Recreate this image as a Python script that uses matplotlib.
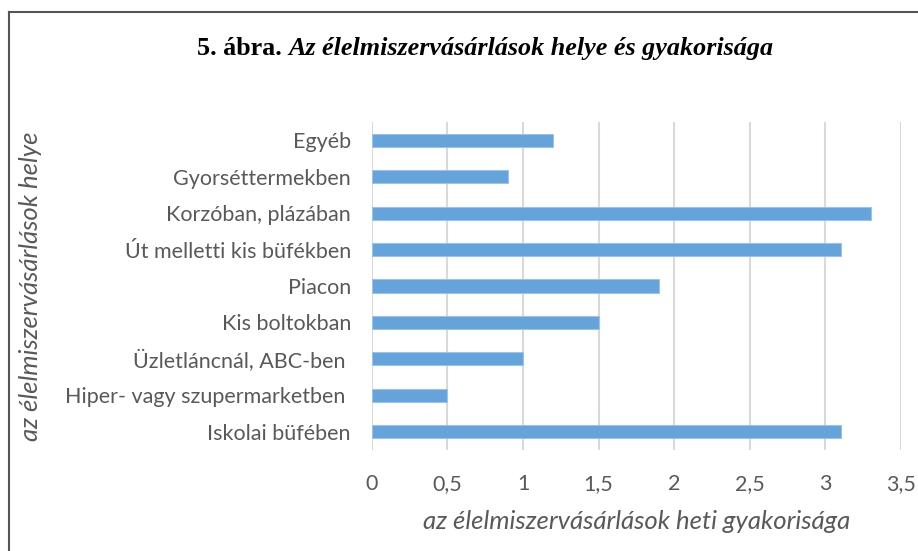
import matplotlib.pyplot as plt
from matplotlib.lines import Line2D

# adatok (alulról felfelé)
helyek = [
    "Iskolai büfében",
    "Hiper- vagy szupermarketben ",
    "Üzletláncnál, ABC-ben ",
    "Kis boltokban",
    "Piacon",
    "Út melletti kis büfékben",
    "Korzóban, plázában",
    "Gyorséttermekben",
    "Egyéb",
]
gyakorisag = [3.1, 0.5, 1.0, 1.5, 1.9, 3.1, 3.3, 0.9, 1.2]
xticks = [0, 0.5, 1, 1.5, 2, 2.5, 3, 3.5]
xtick_labels = ["0", "0,5", "1", "1,5", "2", "2,5", "3", "3,5"]

szurke = "#595959"
kek = "#65a3da"

fig = plt.figure(figsize=(9.18, 5.51), dpi=100)
ax = fig.add_axes([0.405, 0.1833, 0.5765, 0.5953])

ax.barh(range(len(helyek)), gyakorisag, height=0.36, color=kek,
        edgecolor="#9cc3e6", linewidth=0.8, zorder=3)
ax.set_ylim(-0.5, len(helyek) - 0.5)
ax.set_xlim(0, 3.5)
ax.set_yticks(range(len(helyek)))
ax.set_yticklabels(helyek, fontsize=15.5, color=szurke, family="Lato")
ax.set_xticks(xticks)
ax.set_xticklabels(xtick_labels, fontsize=15.5, color=szurke, family="Lato")
ax.tick_params(axis="y", length=0, pad=15)
ax.tick_params(axis="x", length=0, pad=17)
ax.grid(axis="x", color="#d9d9d9", linewidth=1.5, zorder=0)
for s in ax.spines.values():
    s.set_visible(False)

ax.set_xlabel("az élelmiszervásárlások heti gyakorisága", fontsize=18.5,
              color=szurke, style="italic", family="Lato", labelpad=12)
fig.text(0.033, 0.48, "az élelmiszervásárlások helye", rotation=90,
         fontsize=18.5, color=szurke, style="italic", family="Lato",
         ha="center", va="center")

# cím
t1 = fig.text(0.215, 0.912, "5. ábra. ", fontsize=18.8, weight="bold",
              family="Liberation Serif", ha="left", va="center")
fig.canvas.draw()
bb = t1.get_window_extent()
x1 = fig.transFigure.inverted().transform((bb.x1, 0))[0]
fig.text(x1, 0.912, "Az élelmiszervásárlások helye és gyakorisága",
         fontsize=18.8, weight="bold", style="italic",
         family="Liberation Serif", ha="left", va="center")

# keret
fig.add_artist(Line2D([0.0095, 0.0095], [0, 0.978], color="#555555",
                      linewidth=1.5, transform=fig.transFigure))
fig.add_artist(Line2D([0.0095, 1], [0.978, 0.978], color="#555555",
                      linewidth=1.5, transform=fig.transFigure))

fig.savefig("out.png", dpi=100)
